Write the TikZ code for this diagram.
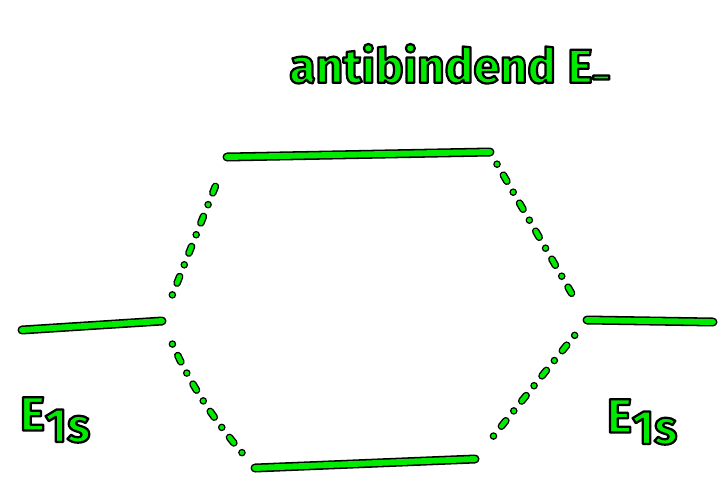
\documentclass[tikz,border=0pt]{standalone}
\usepackage{fontspec}
\setmainfont{Fira Sans}
\definecolor{stift}{RGB}{0,235,0}

% gruene Schrift mit schwarzem Rand
\newcommand{\stifttext}[1]{\textcolor{stift}{\special{pdf:literal q 2 Tr 1.6 w 0 0 0 RG 1 j}#1\special{pdf:literal Q}}}

\tikzset{
    niveau/.style={draw=black, double=stift, line width=1.1pt, double distance=4.2pt, line cap=round},
    verbindung/.style={niveau, line width=1pt, double distance=3.4pt, dash pattern=on 0pt off 9pt on 5pt off 9pt},
    schrift/.style={inner sep=0pt, font=\fontsize{34}{38}\selectfont\bfseries}
}

\begin{document}
\begin{tikzpicture}[x=0.025cm, y=-0.025cm]
        \useasboundingbox (0,0) rectangle (728,487);

        % Enden der Niveaus
        \coordinate (links1) at (22,330);
        \coordinate (links2) at (162,321);
        \coordinate (oben1) at (227,157);
        \coordinate (oben2) at (490,152);
        \coordinate (rechts1) at (587,320);
        \coordinate (rechts2) at (713,322);
        \coordinate (unten1) at (255,468);
        \coordinate (unten2) at (475,459);

        % Niveaus
        \draw[niveau] (links1) -- (links2);
        \draw[niveau] (oben1) -- (oben2);
        \draw[niveau] (rechts1) -- (rechts2);
        \draw[niveau] (unten1) -- (unten2);

        % gepunktete Verbindungen
        \draw[verbindung, shorten <=20pt, shorten >=20pt] (links2) -- (oben1);
        \draw[verbindung, shorten <=18pt, shorten >=14pt] (links2) to[bend right=8] (unten1);
        \draw[verbindung, shorten <=10pt, shorten >=20pt] (oben2) -- (rechts1);
        \draw[verbindung, shorten <=14pt, shorten >=12pt] (rechts1) -- (unten2);

        % Beschriftung
        \node[schrift] (titel) at (450,66) {\stifttext{antibindend E\textsubscript{--}}};
        \node[schrift] (e1) at (55,420) {\stifttext{E\raisebox{-0.45ex}{1s}}};
        \node[schrift] (e2) at (642,422) {\stifttext{E\raisebox{-0.45ex}{1s}}};
\end{tikzpicture}
\end{document}
